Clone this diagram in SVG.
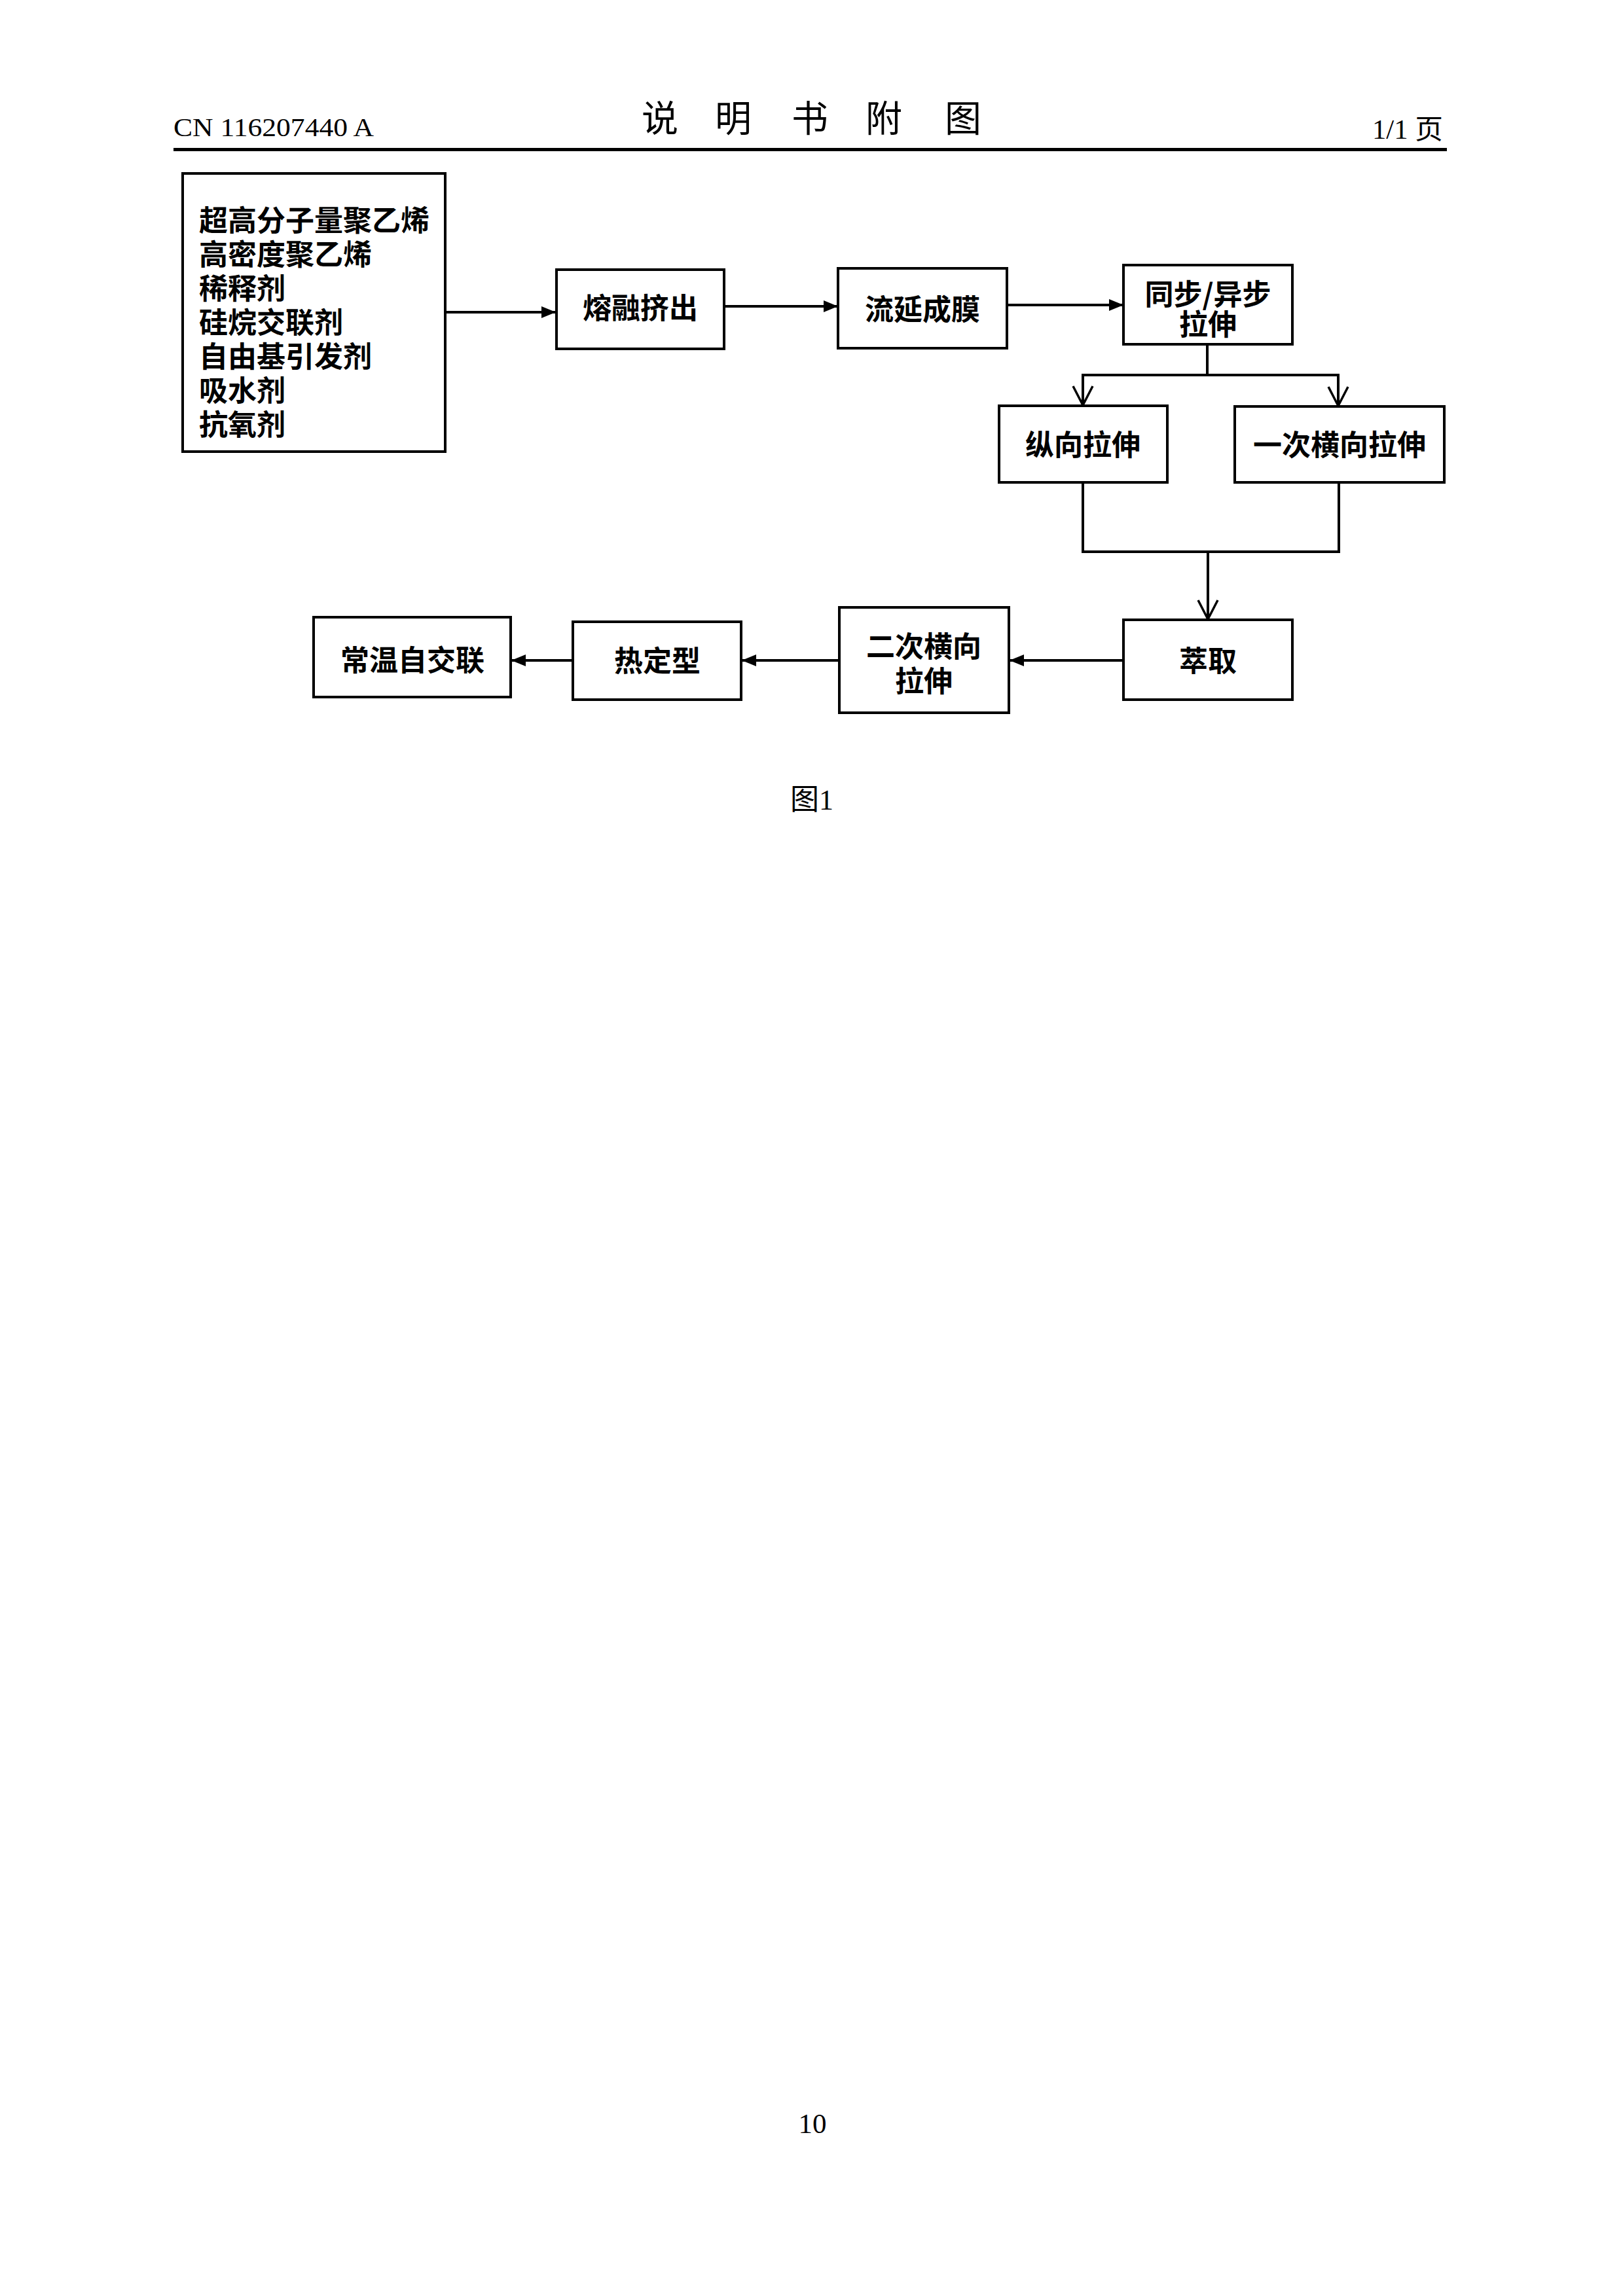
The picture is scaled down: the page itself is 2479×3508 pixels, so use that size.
<svg xmlns="http://www.w3.org/2000/svg" width="2479" height="3508" viewBox="0 0 2479 3508">
<style>
.box{fill:#fff;stroke:#000;stroke-width:4}
.t{font-family:"Noto Sans CJK SC","Liberation Serif",sans-serif;font-size:44px;font-weight:700;fill:#000;text-anchor:middle}
.tl{font-family:"Noto Sans CJK SC","Liberation Serif",sans-serif;font-size:44px;font-weight:700;fill:#000}
.ln{fill:none;stroke:#000;stroke-width:4}
.hd{font-family:"Liberation Serif","Noto Sans CJK SC",serif;fill:#000}
.ti{font-family:"Noto Sans CJK SC",sans-serif;font-size:56px;fill:#000;text-anchor:middle}
</style>
<defs>
<marker id="fa" viewBox="0 0 22 18" refX="22" refY="9" markerWidth="22" markerHeight="18" markerUnits="userSpaceOnUse" orient="auto">
<path d="M0,0 L22,9 L0,18 z" fill="#000"/>
</marker>
<marker id="va" viewBox="0 0 32 34" refX="30" refY="17" markerWidth="32" markerHeight="34" markerUnits="userSpaceOnUse" orient="auto">
<path d="M1,2 L30,17 L1,32" fill="none" stroke="#000" stroke-width="3.5"/>
</marker>
</defs>
<rect width="2479" height="3508" fill="#fff"/>
<g id="header">
<text class="hd" x="265" y="208" font-size="41" textLength="306" lengthAdjust="spacingAndGlyphs">CN 116207440 A</text>
<text class="ti" x="1008" y="201">说</text>
<text class="ti" x="1120" y="201">明</text>
<text class="ti" x="1237" y="201">书</text>
<text class="ti" x="1350" y="201">附</text>
<text class="ti" x="1471" y="201">图</text>
<text class="hd" x="2096" y="212" font-size="42" textLength="108" lengthAdjust="spacingAndGlyphs">1/1 页</text>
<rect x="265" y="226" width="1945" height="5" fill="#000"/>
</g>
<g id="connectors">
<line class="ln" x1="680" y1="477" x2="849" y2="477" marker-end="url(#fa)"/>
<line class="ln" x1="1106" y1="468" x2="1280" y2="468" marker-end="url(#fa)"/>
<line class="ln" x1="1538" y1="466" x2="1716" y2="466" marker-end="url(#fa)"/>
<line class="ln" x1="1844" y1="526" x2="1844" y2="573"/>
<line class="ln" x1="1652" y1="573" x2="2046" y2="573"/>
<line class="ln" x1="1654" y1="573" x2="1654" y2="619" marker-end="url(#va)"/>
<line class="ln" x1="2044" y1="573" x2="2044" y2="620" marker-end="url(#va)"/>
<line class="ln" x1="1654" y1="737" x2="1654" y2="843"/>
<line class="ln" x1="2045" y1="737" x2="2045" y2="843"/>
<line class="ln" x1="1652" y1="843" x2="2047" y2="843"/>
<line class="ln" x1="1845" y1="843" x2="1845" y2="946" marker-end="url(#va)"/>
<line class="ln" x1="1716" y1="1009" x2="1542" y2="1009" marker-end="url(#fa)"/>
<line class="ln" x1="1282" y1="1009" x2="1133" y2="1009" marker-end="url(#fa)"/>
<line class="ln" x1="875" y1="1009" x2="781" y2="1009" marker-end="url(#fa)"/>
</g>
<g id="n_input">
<rect class="box" x="279" y="265" width="401" height="425"/>
<text class="tl" x="304" y="353">超高分子量聚乙烯</text>
<text class="tl" x="304" y="405">高密度聚乙烯</text>
<text class="tl" x="304" y="457">稀释剂</text>
<text class="tl" x="304" y="509">硅烷交联剂</text>
<text class="tl" x="304" y="561">自由基引发剂</text>
<text class="tl" x="304" y="613">吸水剂</text>
<text class="tl" x="304" y="665">抗氧剂</text>
</g>
<g id="n_melt">
<rect class="box" x="850" y="412" width="256" height="121"/>
<text class="t" x="978" y="487">熔融挤出</text>
</g>
<g id="n_cast">
<rect class="box" x="1280" y="410" width="258" height="122"/>
<text class="t" x="1409" y="489">流延成膜</text>
</g>
<g id="n_sync">
<rect class="box" x="1716" y="405" width="258" height="121"/>
<text class="t" x="1845" y="466">同步/异步</text>
<text class="t" x="1845" y="512">拉伸</text>
</g>
<g id="n_md">
<rect class="box" x="1526" y="620" width="257" height="117"/>
<text class="t" x="1654" y="696">纵向拉伸</text>
</g>
<g id="n_td1">
<rect class="box" x="1886" y="621" width="320" height="116"/>
<text class="t" x="2046" y="696">一次横向拉伸</text>
</g>
<g id="n_extract">
<rect class="box" x="1716" y="947" width="258" height="122"/>
<text class="t" x="1845" y="1026">萃取</text>
</g>
<g id="n_td2">
<rect class="box" x="1282" y="928" width="259" height="161"/>
<text class="t" x="1411" y="1004">二次横向</text>
<text class="t" x="1411" y="1057">拉伸</text>
</g>
<g id="n_heat">
<rect class="box" x="875" y="950" width="257" height="119"/>
<text class="t" x="1004" y="1026">热定型</text>
</g>
<g id="n_xlink">
<rect class="box" x="479" y="943" width="301" height="122"/>
<text class="t" x="630" y="1025">常温自交联</text>
</g>
<g id="footer">
<text class="hd" x="1240" y="1237" font-size="44" text-anchor="middle">图1</text>
<text class="hd" x="1241" y="3259" font-size="43" text-anchor="middle">10</text>
</g>
</svg>
